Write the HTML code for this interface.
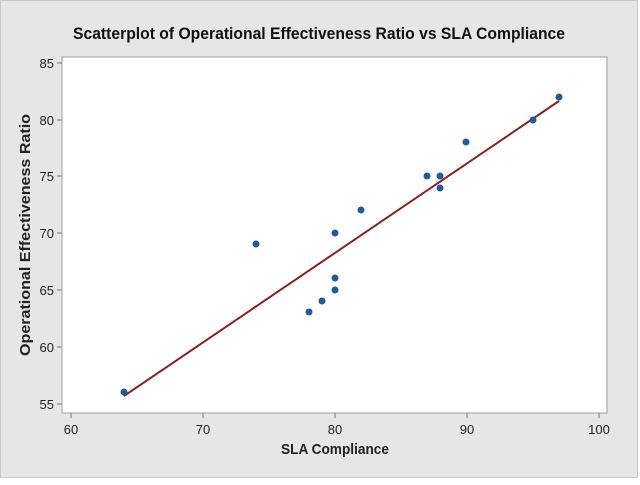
<!DOCTYPE html>
<html><head><style>
body{margin:0;background:#fff}
svg text{font-family:"Liberation Sans",sans-serif}
</style></head><body>
<svg width="640" height="480" xmlns="http://www.w3.org/2000/svg">
<rect x="0.5" y="0.5" width="637" height="477" fill="#e6e6e6" stroke="#c8c8c8"/>
<rect x="62" y="57" width="545" height="356" fill="#fff" stroke="#a0a0a0"/>
<text x="73" y="39" textLength="492" lengthAdjust="spacingAndGlyphs" font-size="17" font-weight="bold" fill="#111">Scatterplot of Operational Effectiveness Ratio vs SLA Compliance</text>
<g stroke="#777" stroke-width="1">
<line x1="71" y1="413" x2="71" y2="418"/><line x1="203" y1="413" x2="203" y2="418"/><line x1="335" y1="413" x2="335" y2="418"/><line x1="467" y1="413" x2="467" y2="418"/><line x1="599" y1="413" x2="599" y2="418"/>
<line x1="57" y1="63" x2="62" y2="63"/><line x1="57" y1="120" x2="62" y2="120"/><line x1="57" y1="176" x2="62" y2="176"/><line x1="57" y1="233" x2="62" y2="233"/><line x1="57" y1="290" x2="62" y2="290"/><line x1="57" y1="347" x2="62" y2="347"/><line x1="57" y1="404" x2="62" y2="404"/>
</g>
<g font-size="13" fill="#222" text-anchor="middle">
<text x="71" y="434">60</text><text x="203" y="434">70</text><text x="335" y="434">80</text><text x="467" y="434">90</text><text x="599" y="434">100</text>
</g>
<g font-size="13" fill="#222" text-anchor="end">
<text x="54" y="68">85</text><text x="54" y="125">80</text><text x="54" y="181">75</text><text x="54" y="238">70</text><text x="54" y="295">65</text><text x="54" y="352">60</text><text x="54" y="409">55</text>
</g>
<text x="281" y="454" textLength="108" lengthAdjust="spacingAndGlyphs" font-size="15" font-weight="bold" fill="#222">SLA Compliance</text>
<text transform="translate(30,356) rotate(-90)" textLength="242" lengthAdjust="spacingAndGlyphs" font-size="15" font-weight="bold" fill="#222">Operational Effectiveness Ratio</text>
<line x1="124" y1="396" x2="559" y2="101" stroke="#8b2020" stroke-width="2"/>
<g fill="#1f5c99">
<circle cx="124" cy="392" r="3.5"/><circle cx="256" cy="244" r="3.5"/><circle cx="309" cy="312" r="3.5"/><circle cx="322" cy="301" r="3.5"/><circle cx="335" cy="290" r="3.5"/><circle cx="335" cy="278" r="3.5"/><circle cx="335" cy="233" r="3.5"/><circle cx="361" cy="210" r="3.5"/><circle cx="427" cy="176" r="3.5"/><circle cx="440" cy="176" r="3.5"/><circle cx="440" cy="188" r="3.5"/><circle cx="466" cy="142" r="3.5"/><circle cx="533" cy="120" r="3.5"/><circle cx="559" cy="97" r="3.5"/>
</g>
</svg>
</body></html>
